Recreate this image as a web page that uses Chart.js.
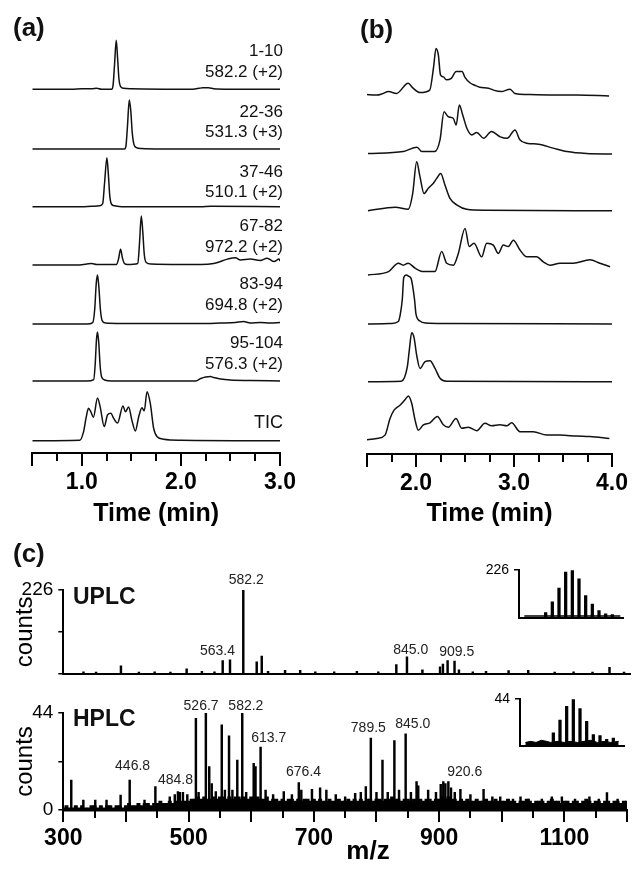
<!DOCTYPE html>
<html>
<head>
<meta charset="utf-8">
<script src="https://cdn.jsdelivr.net/npm/chart.js@4.4.1/dist/chart.umd.min.js"></script>
<style>
body { margin: 0; background: #fff; }
#fig { position: relative; width: 632px; height: 870px; overflow: hidden; background: #fff; }
#fig canvas { position: absolute; }
</style>
</head>
<body>
<div id="fig">
  <canvas id="panelA" width="300" height="538" style="left:0;top:0"></canvas>
  <canvas id="panelB" width="302" height="538" style="left:330px;top:0"></canvas>
  <canvas id="uplc" width="632" height="160" style="left:0;top:530px"></canvas>
  <canvas id="hplc" width="632" height="180" style="left:0;top:690px"></canvas>
  <canvas id="uplcIso" width="150" height="76" style="left:480px;top:555px"></canvas>
  <canvas id="hplcIso" width="150" height="75" style="left:480px;top:684px"></canvas>
</div>
<script>
// ---- data ----

// tick values
var aTicks = [0.5, 0.75, 1.0, 1.25, 1.5, 1.75, 2.0, 2.25, 2.5, 2.75, 3.0];
var bTicks = [1.5, 1.75, 2.0, 2.25, 2.5, 2.75, 3.0, 3.25, 3.5, 3.75, 4.0];
var mzTicks = [300, 350, 400, 450, 500, 550, 600, 650, 700, 750, 800, 850, 900, 950, 1000, 1050, 1100, 1150, 1200];
var uplcYTicks = [0, 113, 226];
var hplcYTicks = [0, 22, 44];

// (a) UPLC extracted ion chromatograms, [time (min), intensity / tallest peak]
var fragmentRange = ['1-10', '22-36', '37-46', '67-82', '83-94', '95-104'];
var fragmentIon = ['582.2 (+2)', '531.3 (+3)', '510.1 (+2)', '972.2 (+2)', '694.8 (+2)', '576.3 (+2)'];

var a1 = [[0.5,0],[0.9,0],[1.0,0.01],[1.1,0.01],[1.15,0.02],[1.2,0],[1.3,0],[1.315,0.08],[1.33,0.5],[1.347,1.0],[1.362,0.6],[1.375,0.2],[1.39,0.06],[1.42,0.02],[1.5,0.01],[2.1,0],[2.18,0.02],[2.22,0.03],[2.28,0.03],[2.33,0.01],[2.5,0],[3.0,0]];
var a2 = [[0.5,0],[1.2,0],[1.43,0],[1.445,0.06],[1.46,0.45],[1.479,1.0],[1.494,0.78],[1.508,0.35],[1.525,0.1],[1.55,0.03],[1.6,0.01],[1.8,0],[3.0,0]];
var a3 = [[0.5,0],[1.0,0],[1.1,0.01],[1.18,0.02],[1.21,0.06],[1.23,0.5],[1.253,1.0],[1.268,0.65],[1.282,0.22],[1.3,0.05],[1.33,0.02],[1.4,0],[2.2,0],[2.3,0.01],[3.0,0]];
var a4 = [[0.5,0],[0.95,0],[1.05,0.02],[1.1,0.03],[1.15,0.01],[1.35,0.01],[1.37,0.12],[1.391,0.32],[1.41,0.14],[1.43,0.03],[1.46,0.01],[1.565,0.03],[1.582,0.45],[1.6,1.0],[1.615,0.68],[1.63,0.22],[1.65,0.05],[1.7,0.02],[2.0,0.01],[2.2,0.01],[2.33,0.03],[2.47,0.12],[2.55,0.15],[2.6,0.1],[2.7,0.12],[2.8,0.09],[2.87,0.14],[2.94,0.07],[2.99,0.12],[3.0,0.08]];
var a5 = [[0.5,0],[1.05,0],[1.11,0.03],[1.13,0.3],[1.145,0.82],[1.158,1.0],[1.172,0.75],[1.188,0.28],[1.205,0.07],[1.24,0.02],[1.4,0.01],[2.2,0.01],[2.4,0.02],[2.55,0.03],[2.63,0.05],[2.7,0.02],[2.8,0.03],[2.9,0.02],[3.0,0.03]];
var a6 = [[0.5,0],[1.05,0],[1.12,0.03],[1.135,0.35],[1.148,0.85],[1.158,1.0],[1.17,0.8],[1.185,0.3],[1.2,0.08],[1.23,0.02],[1.3,0],[2.15,0],[2.2,0.05],[2.25,0.08],[2.3,0.09],[2.33,0.07],[2.4,0.04],[2.5,0.02],[2.7,0.01],[3.0,0]];
var aTIC = [[0.5,0],[0.98,0.01],[1.017,0.18],[1.044,0.48],[1.067,0.66],[1.091,0.59],[1.117,0.48],[1.158,0.87],[1.185,0.69],[1.226,0.29],[1.26,0.53],[1.293,0.56],[1.32,0.46],[1.36,0.36],[1.415,0.71],[1.44,0.59],[1.472,0.69],[1.506,0.41],[1.54,0.2],[1.573,0.48],[1.607,0.67],[1.63,0.61],[1.658,1.0],[1.691,0.76],[1.725,0.25],[1.76,0.08],[1.826,0.03],[2.0,0.01],[3.0,0]];

// (b) HPLC chromatograms of the same ions
var b1 = [[1.48,0.03],[1.6,0.02],[1.65,0.04],[1.72,0.09],[1.8,0.05],[1.92,0.26],[1.97,0.16],[2.04,0.07],[2.14,0.12],[2.18,0.6],[2.204,0.97],[2.228,0.84],[2.25,0.43],[2.28,0.39],[2.31,0.33],[2.36,0.36],[2.41,0.5],[2.47,0.5],[2.5,0.38],[2.55,0.27],[2.6,0.22],[2.65,0.18],[2.74,0.16],[2.79,0.12],[2.87,0.09],[2.96,0.14],[3.01,0.05],[3.13,0.03],[3.4,0.02],[3.64,0.02],[3.97,0]];
var b2 = [[1.51,0.01],[1.87,0.05],[2.01,0.14],[2.06,0.05],[2.19,0.05],[2.245,0.29],[2.286,0.86],[2.33,0.76],[2.38,0.73],[2.41,0.59],[2.442,1.0],[2.476,0.8],[2.52,0.52],[2.57,0.39],[2.62,0.44],[2.69,0.32],[2.77,0.46],[2.86,0.35],[2.93,0.32],[3.01,0.49],[3.06,0.29],[3.13,0.22],[3.25,0.2],[3.4,0.12],[3.54,0.05],[3.74,0.01],[4.0,0]];
var b3 = [[1.51,0],[1.79,0.07],[1.92,0.03],[1.966,0.35],[2.007,1.0],[2.041,0.69],[2.082,0.35],[2.126,0.46],[2.177,0.56],[2.211,0.66],[2.252,0.76],[2.296,0.52],[2.347,0.25],[2.415,0.12],[2.517,0.03],[2.72,0.01],[4.0,0]];
var b4 = [[1.51,0],[1.72,0.07],[1.82,0.24],[1.87,0.2],[1.92,0.24],[1.99,0.14],[2.075,0.07],[2.194,0.07],[2.262,0.48],[2.313,0.24],[2.381,0.2],[2.432,0.44],[2.5,0.95],[2.544,0.58],[2.592,0.65],[2.67,0.37],[2.721,0.65],[2.789,0.61],[2.84,0.44],[2.891,0.61],[2.942,0.58],[2.993,0.71],[3.061,0.51],[3.129,0.37],[3.231,0.37],[3.299,0.27],[3.367,0.2],[3.469,0.24],[3.605,0.24],[3.775,0.31],[3.877,0.24],[3.98,0.17]];
var b5 = [[1.51,0],[1.75,0.01],[1.82,0.05],[1.84,0.2],[1.86,0.5],[1.875,0.95],[1.9,1.0],[1.93,0.97],[1.95,0.93],[1.985,0.5],[2.0,0.2],[2.04,0.06],[2.1,0.02],[2.3,0.01],[4.0,0]];
var b6 = [[1.51,0],[1.85,0.01],[1.912,0.31],[1.932,0.65],[1.956,1.0],[1.98,0.9],[2.007,0.54],[2.041,0.27],[2.092,0.41],[2.143,0.43],[2.194,0.27],[2.245,0.07],[2.313,0.01],[4.0,0]];
var bTIC = [[1.48,0],[1.6,0.03],[1.684,0.1],[1.735,0.44],[1.776,0.61],[1.837,0.71],[1.888,0.82],[1.922,0.9],[1.956,0.75],[1.99,0.41],[2.024,0.2],[2.075,0.31],[2.143,0.35],[2.218,0.48],[2.279,0.31],[2.33,0.26],[2.408,0.44],[2.466,0.24],[2.534,0.26],[2.619,0.19],[2.704,0.34],[2.772,0.29],[2.857,0.31],[2.925,0.29],[2.976,0.35],[3.061,0.17],[3.197,0.17],[3.333,0.1],[3.469,0.1],[3.639,0.08],[3.775,0.07],[3.973,0.03]];

// (c) mass spectra: peak m/z and counts
var uplcMz = [332, 352, 391.5, 420, 445, 470, 495.8, 520, 540, 553, 564.6, 585.7, 607, 615, 625, 652, 676, 700, 730, 766, 800, 828.6, 845.5, 870, 898, 902.6, 910, 921, 928, 950, 971, 1006.8, 1038, 1080, 1110, 1140, 1167, 1190];
var uplcCounts = [5, 4, 21, 4, 5, 4, 13, 6, 5, 35, 37, 226, 31.5, 47.6, 6, 9, 9, 5, 5, 6, 5, 24.6, 45.4, 10, 18.5, 26, 35.3, 33.8, 10, 5, 6, 8, 9, 4, 5, 4, 17, 4];

var hplcMz = [312.7, 332, 351, 369, 391.5, 406, 429.7, 447, 470, 478, 483, 486, 491, 498, 511.7, 516, 527.6, 533, 537, 543.5, 553, 558, 564.6, 570, 577.8, 585.7, 592, 604, 606.9, 615, 623, 635, 652, 665, 676, 680, 697, 710, 720, 735, 750, 766, 775, 783, 791, 800, 809.6, 818, 828.6, 836, 846.6, 855, 864, 866.7, 882.5, 895, 902.6, 906.7, 910, 914.8, 919, 925, 934, 950, 971, 985, 997.6, 1018, 1030, 1043, 1064, 1080, 1096, 1117, 1140, 1155, 1168, 1185];
var hplcCounts = [13.6, 4.5, 4.5, 4.5, 6.8, 13.6, 4.5, 10.6, 6, 7, 8.3, 8, 8, 7, 41.6, 8, 44, 19.7, 12, 8.3, 38.6, 9, 33.6, 9, 22.7, 44, 8, 21.2, 19.7, 28.5, 9, 7, 8.3, 7, 12.4, 9, 9.4, 10, 9, 7, 6, 7.6, 8, 10.6, 32.6, 8, 22.7, 8, 31.5, 9, 34.5, 8, 12.9, 11, 9, 8, 11.7, 12.9, 12, 12.9, 10, 8, 9.4, 7, 9.4, 6, 6, 5, 6, 5, 5, 6, 6, 5, 6, 5, 7.9, 5];
// HPLC chemical noise, one reading every 5 m/z from 300 to 1200
var hplcNoise = [
  1,2,1,1,2,1,2,1,1,2,2,1,2,1,2,2,1,2,2,1,
  2,3,2,2,3,2,3,3,2,3,3,4,3,3,4,3,4,3,4,4,
  4,5,5,6,5,6,5,5,6,5,6,6,5,6,5,6,6,5,6,5,
  6,5,6,5,5,6,4,5,5,4,5,4,5,5,4,5,4,5,5,4,
  5,4,5,4,4,5,4,4,5,4,4,5,4,5,4,5,4,5,5,4,
  5,5,4,5,5,6,5,5,4,5,5,4,5,4,5,4,5,5,4,5,
  5,6,5,6,5,5,4,5,4,5,4,4,5,4,4,5,4,4,5,4,
  4,4,5,4,4,3,4,4,5,4,3,4,4,4,3,4,5,4,4,3,
  4,4,3,4,4,3,4,5,4,3,4,4,3,4,4,3,4,4,3,4,
  4];

var uplcLabel = ['582.2', '563.4', '845.0', '909.5'];
var hplcLabel = ['446.8', '484.8', '526.7', '582.2', '613.7', '676.4', '789.5', '845.0', '920.6'];

// insets: isotope envelope of the 582.2 (+2) ion
var uplcIsoMz = [580.2, 580.7, 581.2, 581.7, 582.2, 582.7, 583.2, 583.7, 584.2, 584.7, 585.2];
var uplcIsoCounts = [24, 75, 140, 216, 223, 184, 105, 64, 33, 18, 14];
var uplcIsoFloor = [[578.6, 8], [585.8, 8]];
var hplcIsoMz = [580.7, 581.2, 581.7, 582.2, 582.7, 583.2, 583.7, 584.2, 584.7, 585.2];
var hplcIsoCounts = [12, 24, 37, 43.5, 35, 23, 10.5, 9.5, 6, 7];
var hplcIsoFloor = [[578.6,3],[579.0,4],[579.4,3],[579.8,5],[580.2,4],[580.5,3],[581.0,4],[581.5,3],[582.0,4],[582.5,3],[583.0,4],[583.5,5],[584.0,3],[584.5,4],[585.0,3],[585.6,4]];

// ---- helpers ----
var FONT = '"Liberation Sans", Arial, Helvetica, sans-serif';
Chart.defaults.font.family = FONT;
Chart.defaults.color = '#000';

function pairs(xs, ys) {
  return xs.map(function(x, i) { return { x: x, y: ys[i] }; });
}

function points(list) {
  return list.map(function(p) { return { x: p[0], y: p[1] }; });
}

function tickObjs(list) {
  return list.map(function(v) { return { value: v }; });
}

// one hidden y axis per trace, so that each trace sits on its own baseline
function stackAxes(baselines, axisY, top, unit) {
  var scales = {};
  baselines.forEach(function(b, i) {
    var min = -(axisY - b) / unit;
    scales['t' + i] = { type: 'linear', axis: 'y', display: false, min: min, max: min + (axisY - top) / unit };
  });
  return scales;
}

function traceSets(traces) {
  return traces.map(function(tr, i) {
    return {
      data: points(tr),
      yAxisID: 't' + i,
      borderColor: '#111',
      borderWidth: 1.5,
      pointRadius: 0,
      fill: false,
      cubicInterpolationMode: 'monotone'
    };
  });
}

function timeAxis(ticks, height, titlePad) {
  return {
    type: 'linear', min: ticks[0], max: ticks[ticks.length - 1], offset: false,
    afterBuildTicks: function(s) { s.ticks = tickObjs(ticks); },
    afterFit: function(s) { s.height = height; },
    ticks: {
      autoSkip: false, maxRotation: 0, minRotation: 0, padding: 3, color: '#000',
      font: { size: 23, weight: 'bold' },
      callback: function(v) {
        return (Math.abs(v - Math.round(v)) < 1e-6 && v !== ticks[0]) ? v.toFixed(1) : '';
      }
    },
    grid: { drawOnChartArea: false, drawTicks: true, tickLength: 13, color: 'rgba(0,0,0,0)' },
    border: { display: true, color: '#000', width: 2 },
    title: { display: true, text: 'Time (min)', color: '#000', font: { size: 25, weight: 'bold' }, padding: { top: 0, bottom: titlePad } }
  };
}

function countAxis(max, ticks, shown, width, fontSize, title) {
  return {
    type: 'linear', min: 0, max: max,
    afterBuildTicks: function(s) { s.ticks = tickObjs(ticks); },
    afterFit: function(s) { s.width = width; },
    ticks: {
      color: '#000', padding: 5, font: { size: fontSize },
      callback: function(v) { return shown.indexOf(v) >= 0 ? String(v) : ''; }
    },
    grid: { drawOnChartArea: false, tickLength: 5, color: '#000', lineWidth: 1.5 },
    border: { display: true, color: '#000', width: 2 },
    title: title ? { display: true, text: title, color: '#000', font: { size: 24 }, padding: { top: 10.6, bottom: 0 } } : { display: false }
  };
}

function bareX(min, max) {
  return {
    type: 'linear', min: min, max: max, offset: false,
    afterFit: function(s) { s.height = 2; },
    ticks: { display: false },
    grid: { display: false },
    border: { display: true, color: '#000', width: 2 }
  };
}

// long ticks on the major values, short ones in between
function tickMarks(majorStep, majorLen, minorLen) {
  return {
    id: 'tickMarks',
    afterDraw: function(chart) {
      var sc = chart.scales.x;
      var ctx = chart.ctx;
      ctx.save();
      ctx.strokeStyle = '#000';
      ctx.lineWidth = 2;
      sc.ticks.forEach(function(t) {
        var r = t.value / majorStep;
        var major = Math.abs(r - Math.round(r)) < 1e-6 || t.value === sc.min;
        var px = Math.round(sc.getPixelForValue(t.value));
        ctx.beginPath();
        ctx.moveTo(px, sc.top);
        ctx.lineTo(px, sc.top + (major ? majorLen : minorLen));
        ctx.stroke();
      });
      ctx.restore();
    }
  };
}

// free text; items with mz/cnt are placed through the chart scales
function textLayer(items) {
  return {
    id: 'textLayer',
    afterDraw: function(chart) {
      var ctx = chart.ctx;
      ctx.save();
      items.forEach(function(it) {
        var x = it.x, y = it.y;
        if (it.mz !== undefined) {
          x = chart.scales.x.getPixelForValue(it.mz);
          y = chart.scales.y.getPixelForValue(it.cnt);
        }
        ctx.font = it.font || ('14px ' + FONT);
        ctx.fillStyle = it.color || '#111';
        ctx.textAlign = it.align || 'center';
        ctx.textBaseline = 'middle';
        ctx.fillText(it.text, x, y);
      });
      ctx.restore();
    }
  };
}

var baseOptions = {
  responsive: false,
  animation: false,
  events: [],
  plugins: { legend: { display: false }, tooltip: { enabled: false } }
};

function opts(extra) {
  return Object.assign({}, baseOptions, extra);
}

// ---- panel (a) ----
var aBase = [89.3, 149, 206.7, 265, 324, 381, 440.7];
var aLabelY = [[51, 72], [112, 132.5], [172, 192.5], [226.5, 247], [284.5, 305], [343.5, 364]];
var aText = [{ text: '(a)', x: 13, y: 29, font: 'bold 26px ' + FONT, align: 'left' }];
fragmentRange.forEach(function(r, i) {
  aText.push({ text: r, x: 283, y: aLabelY[i][0], font: '17px ' + FONT, align: 'right' });
  aText.push({ text: fragmentIon[i], x: 283, y: aLabelY[i][1], font: '17px ' + FONT, align: 'right' });
});
aText.push({ text: 'TIC', x: 283, y: 423.5, font: '18px ' + FONT, align: 'right' });

new Chart(document.getElementById('panelA'), {
  type: 'line',
  data: { datasets: traceSets([a1, a2, a3, a4, a5, a6, aTIC]) },
  options: opts({
    layout: { padding: { left: 32.3, right: 20, top: 30, bottom: 0 } },
    scales: Object.assign({ x: timeAxis(aTicks, 85, 9) }, stackAxes(aBase, 453, 30, 49))
  }),
  plugins: [tickMarks(1, 13, 8), textLayer(aText)]
});

// ---- panel (b) ----
var bBase = [96, 154, 210.7, 275, 324, 381.7, 440];
new Chart(document.getElementById('panelB'), {
  type: 'line',
  data: { datasets: traceSets([b1, b2, b3, b4, b5, b6, bTIC]) },
  options: opts({
    layout: { padding: { left: 37, right: 20, top: 30, bottom: 0 } },
    scales: Object.assign({ x: timeAxis(bTicks, 84, 9) }, stackAxes(bBase, 454, 30, 49))
  }),
  plugins: [tickMarks(1, 13, 8), textLayer([{ text: '(b)', x: 30, y: 31, font: 'bold 26px ' + FONT, align: 'left' }])]
});

// ---- panel (c), UPLC spectrum ----
var uplcLabelAt = [[590.5, 253], [544.8, 60], [851.4, 63], [924.4, 57.7]];
var uplcText = [
  { text: '(c)', x: 13, y: 25, font: 'bold 26px ' + FONT, align: 'left' },
  { text: 'UPLC', x: 73, y: 68, font: 'bold 23px ' + FONT, align: 'left' }
];
uplcLabel.forEach(function(t, i) {
  uplcText.push({ text: t, mz: uplcLabelAt[i][0], cnt: uplcLabelAt[i][1], color: '#222' });
});

new Chart(document.getElementById('uplc'), {
  type: 'bar',
  data: { datasets: [{ data: pairs(uplcMz, uplcCounts), backgroundColor: '#000', barThickness: 1.8, grouped: false }] },
  options: opts({
    layout: { padding: { left: 0, right: 1.7, top: 60, bottom: 0 } },
    scales: { x: bareX(300, 1200), y: countAxis(226, uplcYTicks, [226], 63.3, 19, 'counts') }
  }),
  plugins: [textLayer(uplcText)]
});

// ---- panel (c), HPLC spectrum ----
var hplcLabelAt = [[410.6, 20], [479, 13.6], [520, 47.3], [591.5, 47.3], [628, 32.7], [683.6, 17.3], [787, 37.3], [858, 39], [941, 17.3]];
var hplcText = [
  { text: 'HPLC', x: 73, y: 30, font: 'bold 23px ' + FONT, align: 'left' },
  { text: 'm/z', x: 368, y: 162, font: 'bold 26px ' + FONT, align: 'center', color: '#000' }
];
hplcLabel.forEach(function(t, i) {
  hplcText.push({ text: t, mz: hplcLabelAt[i][0], cnt: hplcLabelAt[i][1], color: '#222' });
});
var noisePoints = hplcNoise.map(function(v, i) { return { x: 300 + 5 * i, y: v }; });

new Chart(document.getElementById('hplc'), {
  type: 'bar',
  data: {
    datasets: [
      { data: noisePoints, backgroundColor: '#000', barThickness: 3.3, grouped: false },
      { data: pairs(hplcMz, hplcCounts), backgroundColor: '#000', barThickness: 1.8, grouped: false }
    ]
  },
  options: opts({
    layout: { padding: { left: 0, right: 1.7, top: 23, bottom: 0 } },
    scales: {
      x: {
        type: 'linear', min: 300, max: 1200, offset: false,
        afterBuildTicks: function(s) { s.ticks = tickObjs(mzTicks); },
        afterFit: function(s) { s.height = 60; },
        ticks: {
          autoSkip: false, maxRotation: 0, minRotation: 0, padding: 5, color: '#000',
          font: { size: 23, weight: 'bold' },
          callback: function(v) { return (v - 300) % 200 === 0 ? String(v) : ''; }
        },
        grid: { drawOnChartArea: false, drawTicks: true, tickLength: 10, color: 'rgba(0,0,0,0)' },
        border: { display: true, color: '#000', width: 2.5 }
      },
      y: countAxis(44, hplcYTicks, [0, 44], 63.3, 19, 'counts')
    }
  }),
  plugins: [tickMarks(100, 12, 8), textLayer(hplcText)]
});

// ---- insets ----
new Chart(document.getElementById('uplcIso'), {
  type: 'bar',
  data: {
    datasets: [
      { type: 'line', data: points(uplcIsoFloor), borderColor: '#000', borderWidth: 1.5, pointRadius: 0, fill: false },
      { data: pairs(uplcIsoMz, uplcIsoCounts), backgroundColor: '#000', barThickness: 2.6, grouped: false }
    ]
  },
  options: opts({
    layout: { padding: { left: 0, right: 7, top: 15, bottom: 0 } },
    scales: { x: bareX(578.2, 586.0), y: countAxis(226, [226], [226], 39, 14, null) }
  })
});

new Chart(document.getElementById('hplcIso'), {
  type: 'bar',
  data: {
    datasets: [
      { type: 'line', data: points(hplcIsoFloor), borderColor: '#000', backgroundColor: '#000', borderWidth: 1, pointRadius: 0, fill: 'origin' },
      { data: pairs(hplcIsoMz, hplcIsoCounts), backgroundColor: '#000', barThickness: 2.6, grouped: false }
    ]
  },
  options: opts({
    layout: { padding: { left: 0, right: 6, top: 15, bottom: 0 } },
    scales: { x: bareX(578.2, 586.0), y: countAxis(44, [44], [44], 40, 14, null) }
  })
});
</script>
</body>
</html>
